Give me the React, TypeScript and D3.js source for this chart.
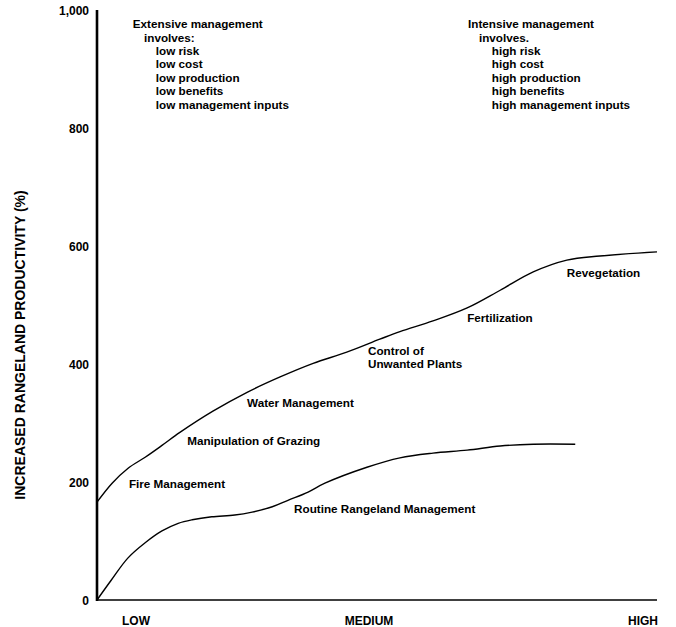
import React from "react";
import * as d3 from "d3";

// Management intensity (0 = LOW, 50 = MEDIUM, 100 = HIGH)
const upperX = [0, 2.7, 5.5, 8.6, 11.6, 14.8, 20.7, 26.8, 32.7, 38.6, 44.6, 50.5, 54.1, 60, 66.1, 72, 77.9, 83.9, 89.8, 100];
const upperY = [166, 198, 223, 242, 262, 284, 320, 352, 378, 401, 420, 442, 455, 473, 495, 525, 556, 576, 583, 590];

const lowerX = [0, 2.5, 5.5, 8.6, 11.6, 14.5, 17, 20.5, 24.6, 27.7, 31.3, 34.1, 37.7, 40.7, 48.2, 54.1, 60, 66.1, 72, 77.9, 85.4];
const lowerY = [0, 33, 71, 97, 117, 130, 136, 141, 144, 149, 158, 169, 183, 198, 225, 241, 249, 254, 261, 264, 264];

const yTicks = [0, 200, 400, 600, 800, 1000];
const xCategories = ["LOW", "MEDIUM", "HIGH"];

const curveLabels = [
  { text: "Revegetation", x: 83.9, y: 547 },
  { text: "Fertilization", x: 66.1, y: 471 },
  { text: "Control of", x: 48.4, y: 415 },
  { text: "Unwanted Plants", x: 48.4, y: 393 },
  { text: "Water Management", x: 26.8, y: 327 },
  { text: "Manipulation of Grazing", x: 16.1, y: 263 },
  { text: "Fire Management", x: 5.7, y: 190 },
  { text: "Routine Rangeland Management", x: 35.2, y: 147 },
];

const extensiveLines = ["Extensive management", "involves:", "low risk", "low cost", "low production", "low benefits", "low management inputs"];
const intensiveLines = ["Intensive management", "involves.", "high risk", "high cost", "high production", "high benefits", "high management inputs"];

const FONT = "'Liberation Sans', Arial, Helvetica, sans-serif";

export default function App() {
  const W = 676, H = 627;
  const x = d3.scaleLinear().domain([0, 100]).range([97, 657]);
  const y = d3.scaleLinear().domain([0, 1000]).range([600, 10]);
  // category label centres along the x axis
  const xCat = d3.scalePoint<string>().domain(xCategories).range([136, 643]).padding(0);
  const catX = (c: string) => (c === "MEDIUM" ? 369 : (xCat(c) as number));

  const line = d3
    .line<[number, number]>()
    .x((d) => x(d[0]))
    .y((d) => y(d[1]))
    .curve(d3.curveCatmullRom.alpha(0.5));

  const upper = line(upperX.map((v, i) => [v, upperY[i]] as [number, number])) || "";
  const lower = line(lowerX.map((v, i) => [v, lowerY[i]] as [number, number])) || "";

  const blockY0 = 969;
  const blockStep = 22.7;
  const indentLeft = [6.4, 8.4, 10.5];
  const indentRight = [66.25, 68.2, 70.5];
  const indentIdx = (i: number) => (i === 0 ? 0 : i === 1 ? 1 : 2);

  return (
    <svg width={W} height={H} style={{ position: "absolute", left: 0, top: 0, background: "#fff" }} fontFamily={FONT}>
      <rect x={0} y={0} width={W} height={H} fill="#fff" />
      {/* axes */}
      <line x1={x(0)} x2={x(0)} y1={y(1000)} y2={y(0) + 1} stroke="#000" strokeWidth={2.6} />
      <line x1={x(0)} x2={x(100)} y1={y(0)} y2={y(0)} stroke="#000" strokeWidth={1.6} />

      {yTicks.map((t) => (
        <text key={t} x={89} y={y(t) + 4.5} textAnchor="end" fontSize={12} fontWeight="bold" fill="#000">
          {d3.format(",")(t)}
        </text>
      ))}

      {xCategories.map((c) => (
        <text key={c} x={catX(c)} y={625} textAnchor="middle" fontSize={12} fontWeight="bold" fill="#000">
          {c}
        </text>
      ))}

      <text transform={`translate(25, 345) rotate(-90)`} textAnchor="middle" fontSize={14} fontWeight="bold" fill="#000">
        INCREASED RANGELAND PRODUCTIVITY (%)
      </text>

      <path d={upper} fill="none" stroke="#000" strokeWidth={1.4} />
      <path d={lower} fill="none" stroke="#000" strokeWidth={1.4} />

      {curveLabels.map((l) => (
        <text key={l.text} x={x(l.x)} y={y(l.y)} fontSize={11.7} fontWeight="bold" fill="#000">
          {l.text}
        </text>
      ))}

      {extensiveLines.map((t, i) => (
        <text key={t} x={x(indentLeft[indentIdx(i)])} y={y(blockY0 - i * blockStep)} fontSize={11.7} fontWeight="bold" fill="#000">
          {t}
        </text>
      ))}
      {intensiveLines.map((t, i) => (
        <text key={t} x={x(indentRight[indentIdx(i)])} y={y(blockY0 - i * blockStep)} fontSize={11.7} fontWeight="bold" fill="#000">
          {t}
        </text>
      ))}
    </svg>
  );
}
